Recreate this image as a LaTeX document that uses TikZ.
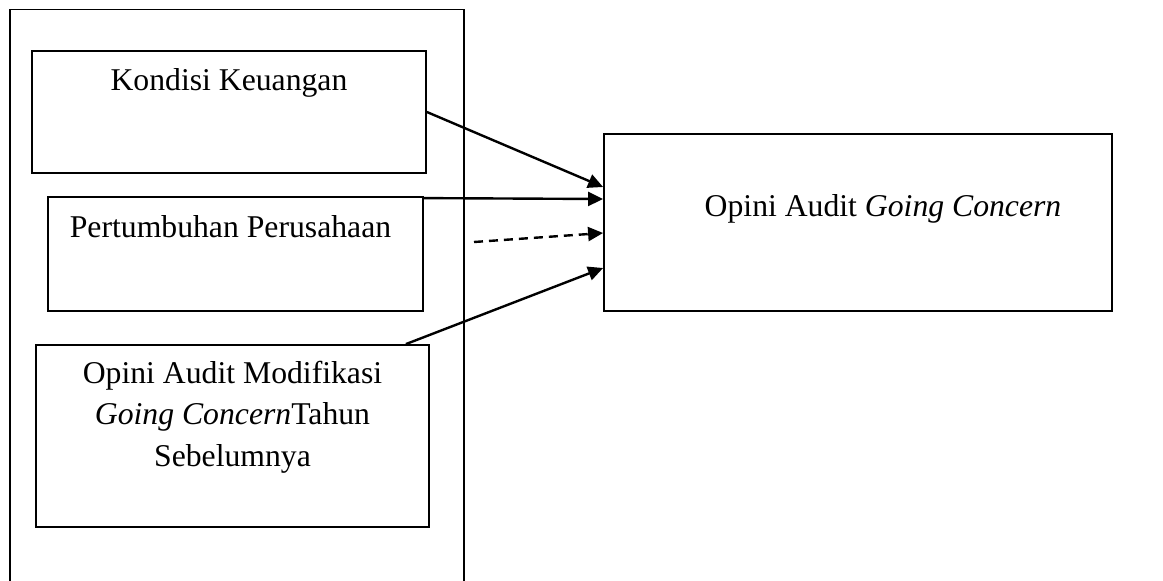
\documentclass[tikz,border=0pt]{standalone}
\usepackage{fontspec}
\setmainfont{Liberation Serif}
\usetikzlibrary{arrows.meta}
\begin{document}
\begin{tikzpicture}[x=1pt,y=-1pt,
  every node/.style={font=\fontsize{31.7}{41.3}\selectfont},
  varbox/.style={draw,line width=1.8pt,inner sep=0pt},
  txt/.style={anchor=base,inner sep=0pt},
  link/.style={line width=2.4pt,-{Triangle[length=15pt,width=14pt]}}]
  \useasboundingbox (0,0) rectangle (1163,581);
  % frame around the independent variables (runs off the bottom edge)
  \draw[line width=1.8pt] (10,582) -- (10,9.5) -- (464,9.5) -- (464,582);
  % independent variables
  \node[varbox,minimum width=394pt,minimum height=122pt,
        label={[txt,yshift=-40pt]north:Kondisi Keuangan}] (kk) at (229,112) {};
  \node[varbox,minimum width=375pt,minimum height=114pt,
        label={[txt,yshift=-41pt,xshift=-5pt]north:Pertumbuhan Perusahaan}] (pp) at (235.5,254) {};
  \node[varbox,minimum width=393pt,minimum height=182pt,
        label={[anchor=north,inner sep=0pt,align=center,yshift=-17pt]north:Opini Audit Modifikasi\\\textit{Going Concern}Tahun\\Sebelumnya}] (om) at (232.5,436) {};
  % dependent variable
  \node[varbox,minimum width=508pt,minimum height=177pt,
        label={[txt,yshift=-83pt,xshift=25pt]north:Opini Audit \textit{Going Concern}}] (og) at (858,222.5) {};
  % free start of the dashed connector
  \coordinate (ds) at (474,242);
  % connectors
  \draw[link] (kk.east) -- ([yshift=35.5pt]og.west);
  \draw[link] ([yshift=-2pt]pp.north east) -- ([yshift=23.5pt]og.west);
  \draw[link,dash pattern=on 9pt off 6pt] (ds) -- ([yshift=-10.5pt]og.west);
  \draw[link] ([xshift=-24pt]om.north east) -- ([yshift=-45.5pt]og.west);
\end{tikzpicture}
\end{document}
